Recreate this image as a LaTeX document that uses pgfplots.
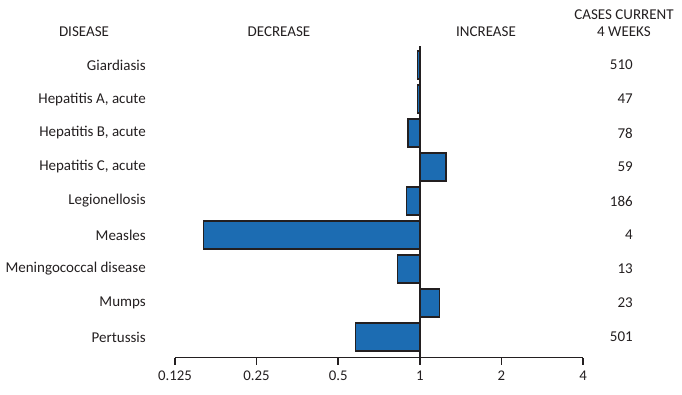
\documentclass[border=0pt]{standalone}
\usepackage{pgfplots}
\pgfplotsset{compat=1.18}
\usepackage{fontspec}
\setmainfont{Carlito}
\definecolor{barblue}{RGB}{28,108,178}
\definecolor{txt}{RGB}{35,31,32}
\begin{document}
\fontsize{15}{17}\selectfont
\begin{tikzpicture}[x=1pt,y=1pt]
\begin{axis}[
  scale only axis,
  width=408pt, height=311.7pt,
  at={(0,0)}, anchor=south west,
  xmode=log, log basis x=2,
  xmin=0.125, xmax=4,
  ymin=-0.56, ymax=8.61,
  y dir=reverse,
  axis x line=bottom,
  axis y line=none,
  axis line style={-, line width=1.4pt, color=txt},
  xtick={0.125,0.25,0.5,1,2,4},
  xticklabels={0.125,0.25,0.5,1,2,4},
  tick align=outside,
  major tick length=7pt,
  tick style={line width=1.4pt, color=txt},
  xticklabel style={font=\fontsize{14.8}{17}\selectfont, text=txt, yshift=-1pt},
  xbar, bar width=28pt,
  clip=false,
]
\addplot[fill=barblue, draw=txt, line width=1.4pt] coordinates {
  (0.98,0) (0.98,1) (0.905,2) (1.25,3) (0.893,4) (0.159,5) (0.827,6) (1.18,7) (0.58,8)
};
\draw[line width=1.4pt, color=txt] (axis cs:1,-0.56) -- (axis cs:1,8.61);
\node[anchor=east, text=txt, xshift=-24pt] at (axis cs:0.125,0) {Giardiasis};
\node[anchor=east, text=txt, xshift=-24pt] at (axis cs:0.125,1) {Hepatitis A, acute};
\node[anchor=east, text=txt, xshift=-24pt] at (axis cs:0.125,2) {Hepatitis B, acute};
\node[anchor=east, text=txt, xshift=-24pt] at (axis cs:0.125,3) {Hepatitis C, acute};
\node[anchor=east, text=txt, xshift=-24pt] at (axis cs:0.125,4) {Legionellosis};
\node[anchor=east, text=txt, xshift=-24pt] at (axis cs:0.125,5) {Measles};
\node[anchor=east, text=txt, xshift=-24pt] at (axis cs:0.125,6) {Meningococcal disease};
\node[anchor=east, text=txt, xshift=-24pt] at (axis cs:0.125,7) {Mumps};
\node[anchor=east, text=txt, xshift=-24pt] at (axis cs:0.125,8) {Pertussis};
\node[anchor=east, text=txt, xshift=55pt] at (axis cs:4,0) {510};
\node[anchor=east, text=txt, xshift=55pt] at (axis cs:4,1) {47};
\node[anchor=east, text=txt, xshift=55pt] at (axis cs:4,2) {78};
\node[anchor=east, text=txt, xshift=55pt] at (axis cs:4,3) {59};
\node[anchor=east, text=txt, xshift=55pt] at (axis cs:4,4) {186};
\node[anchor=east, text=txt, xshift=55pt] at (axis cs:4,5) {4};
\node[anchor=east, text=txt, xshift=55pt] at (axis cs:4,6) {13};
\node[anchor=east, text=txt, xshift=55pt] at (axis cs:4,7) {23};
\node[anchor=east, text=txt, xshift=55pt] at (axis cs:4,8) {501};
\end{axis}
\node[text=txt] at (-91,325.7) {DISEASE};
\node[text=txt] at (104,325.7) {DECREASE};
\node[text=txt] at (311,325.7) {INCREASE};
\node[text=txt] at (449,342.7) {CASES CURRENT};
\node[text=txt] at (449,325.7) {4 WEEKS};
\path[use as bounding box] (-175,-37.3) rectangle (507,357.7);
\end{tikzpicture}
\end{document}
